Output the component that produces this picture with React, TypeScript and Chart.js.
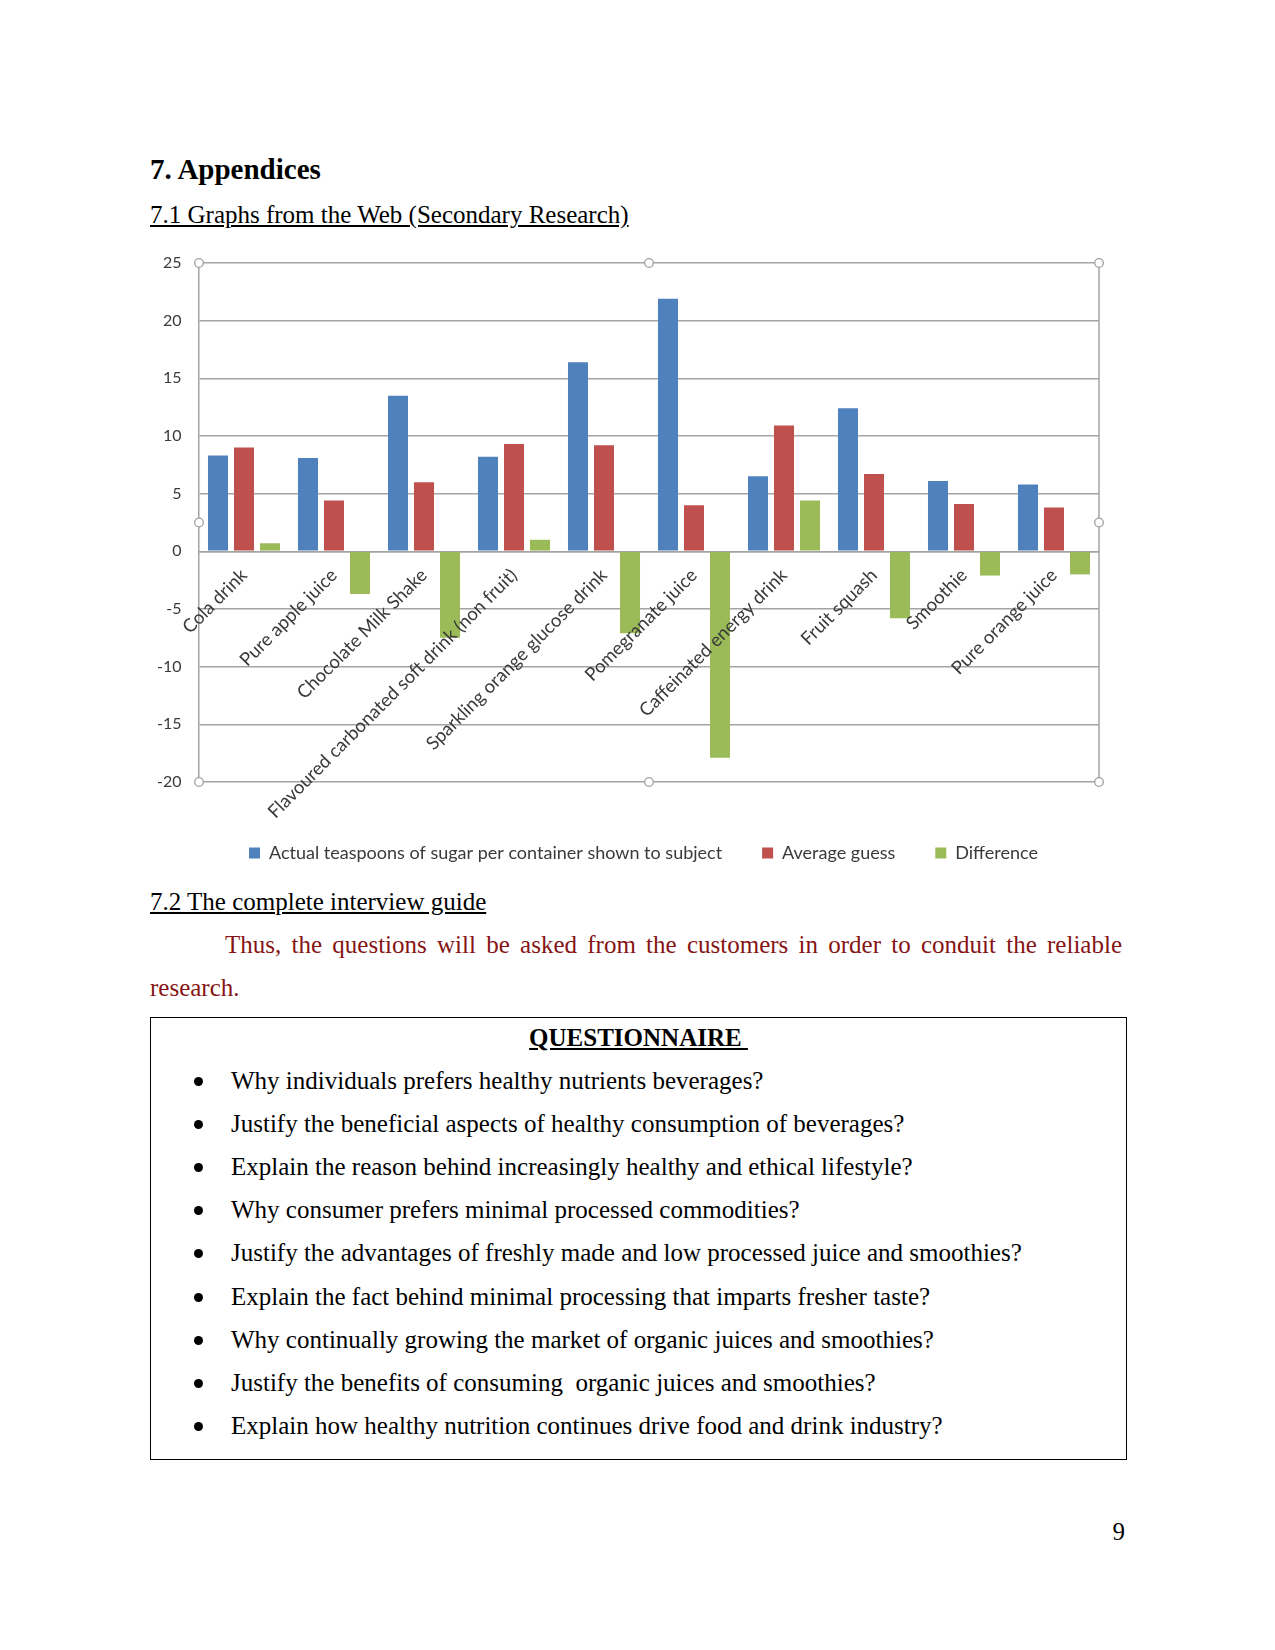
import React, { useEffect, useRef } from "react";
import { Chart, registerables } from "chart.js";

Chart.register(...registerables);

const categories = [
  "Cola drink",
  "Pure apple juice",
  "Chocolate Milk Shake",
  "Flavoured carbonated soft drink (non fruit)",
  "Sparkling orange glucose drink",
  "Pomegranate juice",
  "Caffeinated energy drink",
  "Fruit squash",
  "Smoothie",
  "Pure orange juice",
];
const actualTeaspoons = [8.3, 8.1, 13.5, 8.2, 16.4, 21.9, 6.5, 12.4, 6.1, 5.8];
const averageGuess = [9.0, 4.4, 6.0, 9.3, 9.2, 4.0, 10.9, 6.7, 4.1, 3.8];
const difference = [0.7, -3.7, -7.5, 1.0, -7.1, -17.9, 4.4, -5.8, -2.1, -2.0];
const seriesNames = [
  "Actual teaspoons of sugar per container shown to subject",
  "Average guess",
  "Difference",
];
const seriesColors = ["#4f81bd", "#c0504d", "#9bbb59"];

const questions = [
  "Why individuals prefers healthy nutrients beverages?",
  "Justify the beneficial aspects of healthy consumption of beverages?",
  "Explain the reason behind increasingly healthy and ethical lifestyle?",
  "Why consumer prefers minimal processed commodities?",
  "Justify the advantages of freshly made and low processed juice and smoothies?",
  "Explain the fact behind minimal processing that imparts fresher taste?",
  "Why continually growing the market of organic juices and smoothies?",
  "Justify the benefits of consuming  organic juices and smoothies?",
  "Explain how healthy nutrition continues drive food and drink industry?",
];

const GRID = "#a4a4a4";
const TEXT = "#3a3a3a";
const FONT = "Lato, 'Open Sans', sans-serif";

const framePlugin = {
  id: "frameHandles",
  afterDraw(chart: any) {
    const { ctx, chartArea } = chart;
    const { left, right, top, bottom } = chartArea;
    ctx.save();
    ctx.strokeStyle = GRID;
    ctx.lineWidth = 1.5;
    ctx.beginPath();
    ctx.moveTo(right, top);
    ctx.lineTo(right, bottom);
    ctx.stroke();
    const mx = (left + right) / 2;
    const my = (top + bottom) / 2;
    const pts = [
      [left, top], [mx, top], [right, top],
      [left, my], [right, my],
      [left, bottom], [mx, bottom], [right, bottom],
    ];
    ctx.strokeStyle = "#a0a0a0";
    ctx.lineWidth = 1.3;
    for (const [x, y] of pts) {
      ctx.beginPath();
      ctx.arc(x, y, 4.3, 0, Math.PI * 2);
      ctx.fillStyle = "#ffffff";
      ctx.fill();
      ctx.stroke();
    }
    ctx.restore();
  },
};

function SugarChart() {
  const ref = useRef<HTMLCanvasElement | null>(null);
  useEffect(() => {
    if (!ref.current) return;
    const values = [actualTeaspoons, averageGuess, difference];
    const chart = new Chart(ref.current, {
      type: "bar",
      data: {
        labels: categories,
        datasets: values.map((v, i) => ({
          label: seriesNames[i],
          data: v,
          backgroundColor: seriesColors[i],
          borderWidth: 0,
          categoryPercentage: 0.867,
          barPercentage: 0.77,
        })),
      },
      options: {
        animation: false,
        responsive: true,
        maintainAspectRatio: false,
        devicePixelRatio: 1,
        layout: { padding: { left: 38, right: 21, top: 19, bottom: 1 } },
        plugins: {
          tooltip: { enabled: false },
          title: { display: false },
          legend: {
            position: "bottom",
            title: { display: true, text: "", font: { size: 2, lineHeight: 1 }, padding: { top: 20, bottom: 0 } },
            labels: {
              boxWidth: 11,
              boxHeight: 11,
              padding: 40,
              color: TEXT,
              font: { family: FONT, size: 18 },
            },
          },
        },
        scales: {
          x: {
            type: "category",
            position: { y: 0 } as any,
            grid: { display: false, drawTicks: false },
            border: { display: true, color: GRID, width: 1.5 },
            ticks: {
              z: 1,
              autoSkip: false,
              maxRotation: 45,
              minRotation: 45,
              padding: 13,
              color: TEXT,
              font: { family: FONT, size: 18.5 },
            },
          },
          y: {
            min: -20,
            max: 25,
            afterFit: (scale: any) => {
              scale.width = 11;
            },
            ticks: {
              stepSize: 5,
              mirror: true,
              crossAlign: "far",
              padding: -42,
              color: TEXT,
              font: { family: FONT, size: 16 },
            },
            grid: { color: GRID, lineWidth: 1.5, drawTicks: false },
            border: { display: true, color: GRID, width: 1.5 },
          },
        },
      },
      plugins: [framePlugin],
    });
    return () => chart.destroy();
  }, []);
  return (
    <div style={{ position: "absolute", left: 150, top: 244, width: 970, height: 629 }}>
      <canvas ref={ref} />
    </div>
  );
}

const serif = "'Liberation Serif', 'Times New Roman', serif";

function Line(props: { baseline: number; left: number; size?: number; bold?: boolean; children: any; style?: any }) {
  const size = props.size ?? 25;
  const off = size * (0.891 - (1.107 - 1) / 2);
  return (
    <div
      style={{
        position: "absolute",
        left: props.left,
        top: props.baseline - off,
        fontFamily: serif,
        fontSize: size,
        lineHeight: `${size}px`,
        fontWeight: props.bold ? "bold" : "normal",
        whiteSpace: "pre",
        color: "#000",
        ...props.style,
      }}
    >
      {props.children}
    </div>
  );
}

export default function App() {
  const bulletBase = 1089;
  const bulletStep = 43.1;
  return (
    <div style={{ position: "absolute", left: 0, top: 0, width: 1275, height: 1650, background: "#fff", fontFamily: serif }}>
      <Line baseline={179} left={150} size={29} bold>7. Appendices</Line>
      <Line baseline={223} left={150} style={{ textDecoration: "underline" }}>7.1 Graphs from the Web (Secondary Research)</Line>
      <SugarChart />
      <Line baseline={910} left={150} style={{ textDecoration: "underline" }}>7.2 The complete interview guide</Line>
      <div
        style={{
          position: "absolute",
          left: 150,
          top: 923,
          width: 972,
          fontFamily: serif,
          fontSize: 25,
          lineHeight: "43px",
          textAlign: "justify",
          textIndent: 75,
          color: "#861414",
        }}
      >
        Thus, the questions will be asked from the customers in order to conduit the reliable research.
      </div>
      <div
        style={{
          position: "absolute",
          left: 150,
          top: 1017,
          width: 975,
          height: 441,
          border: "1px solid #000",
        }}
      />
      <div
        style={{
          position: "absolute",
          left: 150,
          width: 977,
          top: 1046 - 21,
          fontFamily: serif,
          fontSize: 25,
          lineHeight: "25px",
          textAlign: "center",
          fontWeight: "bold",
          whiteSpace: "pre",
        }}
      >
        <span style={{ textDecoration: "underline" }}>QUESTIONNAIRE </span>
      </div>
      {questions.map((q, i) => {
        const b = bulletBase + i * bulletStep;
        return (
          <React.Fragment key={i}>
            <div
              style={{
                position: "absolute",
                left: 198 - 4.5,
                top: b - 7.5 - 4.5,
                width: 9,
                height: 9,
                borderRadius: "50%",
                background: "#000",
              }}
            />
            <Line baseline={b} left={231}>{q}</Line>
          </React.Fragment>
        );
      })}
      <div
        style={{
          position: "absolute",
          left: 1025,
          width: 100,
          top: 1540 - 21,
          fontFamily: serif,
          fontSize: 25,
          lineHeight: "25px",
          textAlign: "right",
        }}
      >
        9
      </div>
    </div>
  );
}
